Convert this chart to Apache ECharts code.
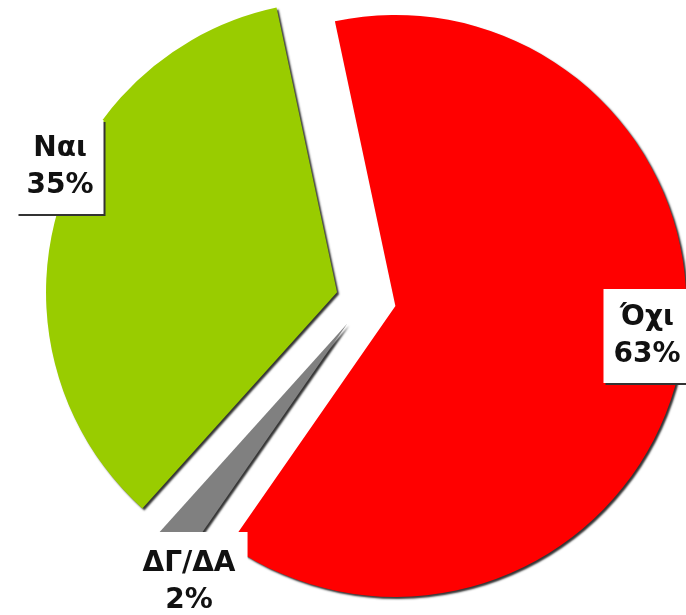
<!DOCTYPE html>
<html>
<head>
<meta charset="utf-8">
<script src="https://cdn.jsdelivr.net/npm/echarts@6/dist/echarts.min.js"></script>
<style>
  html, body { margin: 0; padding: 0; background: #fff; }
  #chart { width: 686px; height: 615px; }
</style>
</head>
<body>
<div id="chart"></div>
<script>
// δεδομένα (με τη σειρά του Excel, δεξιόστροφα από πάνω)
const categories = ['Όχι', 'ΔΓ/ΔΑ', 'Ναι']
const values = [63, 2, 35]
const colors = ['#ff0000', '#808080', '#99cc00']

// θέσεις ετικετών (κέντρο κειμένου x, πάνω άκρη πλαισίου y)
const labelPos = [[647, 289], [189, 532], [60, 120]]
const labelPad = [[10, 10], [13, 12], [10, 10]]
const labelShadow = [true, false, true]

const chart = echarts.init(document.getElementById('chart'))

// ετικέτες ως title, ώστε να στέκονται όπου τις θέλουμε
const labels = categories.map(function (name, i) {
  const pad = labelPad[i]
  const t = {
    text: name + '\n' + values[i] + '%',
    left: labelPos[i][0] - pad[1],
    top: labelPos[i][1],
    textAlign: 'center',
    padding: pad,
    backgroundColor: '#fff',
    textStyle: {
      fontFamily: 'DejaVu Sans',
      fontWeight: 'bold',
      fontSize: 28,
      lineHeight: 37,
      color: '#111'
    }
  }
  if (labelShadow[i]) {
    t.shadowColor = '#333'
    t.shadowBlur = 0
    t.shadowOffsetX = 2
    t.shadowOffsetY = 2
  }
  return t
})

chart.setOption({
  animation: false,
  title: labels,
  series: [{
    type: 'pie',
    z: 1,
    center: [366, 300],
    radius: 291,
    startAngle: 102,
    clockwise: true,
    selectedMode: 'multiple',
    selectedOffset: 30,
    label: { show: false },
    labelLine: { show: false },
    emphasis: { scale: false },
    itemStyle: {
      shadowColor: 'rgba(0,0,0,0.8)',
      shadowBlur: 2,
      shadowOffsetX: 2,
      shadowOffsetY: 2
    },
    data: categories.map(function (name, i) {
      return {
        name: name,
        value: values[i],
        selected: true,
        itemStyle: { color: colors[i] }
      }
    })
  }]
})
</script>
</body>
</html>
